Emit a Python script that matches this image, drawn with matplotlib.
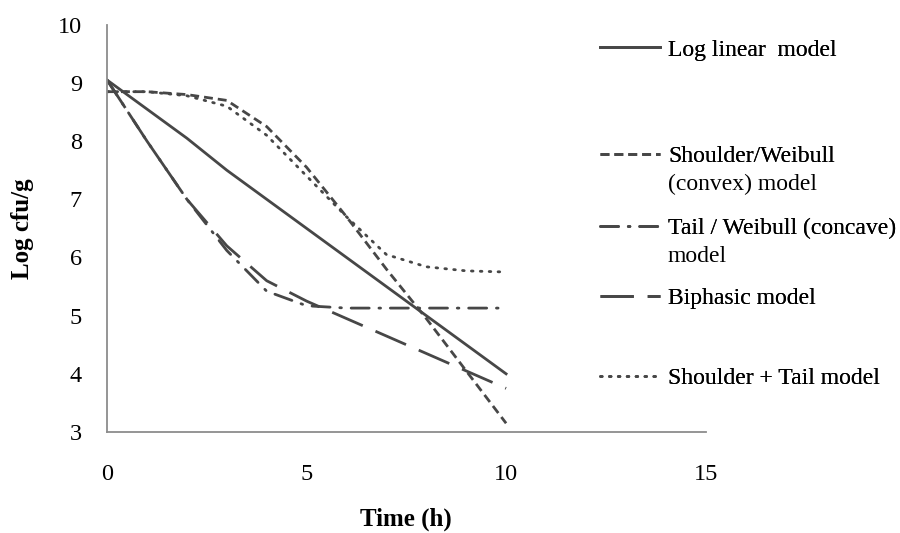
import matplotlib
matplotlib.use('Agg')
import matplotlib.pyplot as plt
import numpy as np

plt.rcParams['font.family'] = ['Liberation Serif', 'DejaVu Serif']

# ---- data ----
time_h = [0, 1, 2, 3, 4, 5, 6, 7, 8, 9, 10]
log_linear = [9.05, 8.55, 8.05, 7.5, 7.0, 6.5, 6.0, 5.5, 5.0, 4.5, 4.0]
shoulder_weibull = [8.85, 8.85, 8.8, 8.7, 8.25, 7.55, 6.7, 5.8, 4.95, 4.05, 3.15]
tail_weibull = [9.05, 8.0, 7.0, 6.12, 5.42, 5.17, 5.13, 5.13, 5.13, 5.13, 5.13]
biphasic = [9.05, 8.0, 7.0, 6.2, 5.6, 5.25, 4.95, 4.65, 4.35, 4.05, 3.75]
shoulder_tail = [8.85, 8.85, 8.78, 8.6, 8.1, 7.4, 6.7, 6.05, 5.84, 5.77, 5.75]

# legend text: first line goes next to the handle, second line (if any) below it
labels = ['Log linear  model', 'Shoulder/Weibull', 'Tail / Weibull (concave)',
          'Biphasic model', 'Shoulder + Tail model']
label_cont = ['', '(convex) model', 'model', '', '']

col = '#474747'
lw = 2.0

fig = plt.figure(figsize=(9, 5.33), dpi=100)
ax = fig.add_axes([0.119, 0.1895, 0.665, 0.764])

h1, = ax.plot(time_h, log_linear, color=col, lw=lw, solid_joinstyle='round')
h2, = ax.plot(time_h, shoulder_weibull, color=col, lw=lw, dashes=(3.2, 1.8))
h3, = ax.plot(time_h, tail_weibull, color=col, lw=lw,
              dashes=(6.5, 3.5, 0.6, 3.5), dash_capstyle='round')
h4, = ax.plot(time_h, biphasic, color=col, lw=lw, dashes=(12, 5))
h5, = ax.plot(time_h, shoulder_tail, color=col, lw=lw, dashes=(0.6, 2.6),
              dash_capstyle='round')

ax.set_xlim(0, 15)
ax.set_ylim(3, 10)
ax.set_xticks([0, 5, 10, 15])
ax.set_yticks(range(3, 11))
for s in ['top', 'right']:
    ax.spines[s].set_visible(False)
for s in ['left', 'bottom']:
    ax.spines[s].set_color('#8c8c8c')
    ax.spines[s].set_linewidth(1.3)
ax.tick_params(length=0, labelsize=17.5, colors='black')
ax.tick_params(axis='x', pad=23)
ax.tick_params(axis='y', pad=18)

ax.set_xlabel('Time (h)', fontsize=18, fontweight='bold', labelpad=16.5)
ax.set_ylabel('Log cfu/g', fontsize=18, fontweight='bold', labelpad=17)

# legend entries placed down the right side like the original
handles = [h1, h2, h3, h4, h5]
ys = [0.9062, 0.7073, 0.5722, 0.4409, 0.2908]
for h, lab, cont, y in zip(handles, labels, label_cont, ys):
    leg = fig.legend([h], [lab], loc='center left', bbox_to_anchor=(0.667, y),
                     frameon=False, fontsize=17, handlelength=2.54,
                     handletextpad=0.34, borderaxespad=0, borderpad=0)
    fig.add_artist(leg)
    if cont:
        fig.text(0.7422, y - 28 / 533, cont, fontsize=17, va='center', ha='left')

fig.savefig('out.png', dpi=100, facecolor='white')
